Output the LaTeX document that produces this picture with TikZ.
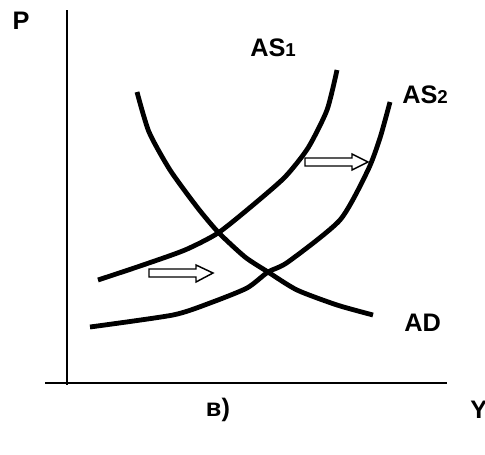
\documentclass[tikz,border=0pt]{standalone}
\usepackage{fontspec}
\setmainfont{Liberation Sans}
\usetikzlibrary{positioning}

\begin{document}
\begin{tikzpicture}[x=0.75pt,y=-0.75pt]
\tikzset{
  axislabel/.style={font=\fontsize{19}{22}\selectfont\bfseries,inner sep=0pt},
  curvelabel/.style={font=\fontsize{19}{22}\selectfont\bfseries,inner sep=0pt,anchor=base west},
  axis/.style={line width=1.4pt},
  curve/.style={line width=3.6pt},
  shiftarrow/.style={line width=1.1pt,fill=white,line join=miter}
}
\useasboundingbox (0,0) rectangle (485,454);
% axes
\draw[axis] (67,10) -- (67,385);
\draw[axis] (45,383) -- (447,383);
\node[axislabel] (n_P) at (21,21) {P};
\node[axislabel,anchor=west] (n_Y) at (470,410) {Y};
\node[axislabel] (n_b) at (218,410) {в)};
% curves
\draw[curve] plot[smooth,tension=0.4] coordinates {(98,280) (143,265) (185,250) (218,233) (253,205) (285,177) (308,148) (327,110) (337,70)};
\draw[curve] plot[smooth,tension=0.4] coordinates {(90,327) (173,315) (210,303) (247,288) (268,272) (288,262) (340,220) (368,170) (380,138) (390,102)};
\draw[curve] plot[smooth,tension=0.4] coordinates {(137,92) (149,132) (170,170) (197,207) (218,232) (245,257) (268,272) (297,290) (337,305) (373,315)};
\node[curvelabel] (n_AS1) at (250,56) {AS\fontsize{14}{16}\selectfont1};
\node[curvelabel] (n_AS2) at (402,103) {AS\fontsize{14}{16}\selectfont2};
\node[curvelabel] (n_AD) at (404,331) {AD};
% shift arrows
\draw[shiftarrow] (149,269) -- (196,269) -- (196,265) -- (213,273) -- (196,282) -- (196,277) -- (149,277) -- cycle;
\draw[shiftarrow] (305,158) -- (352,158) -- (352,154) -- (368,162) -- (352,170) -- (352,166) -- (305,166) -- cycle;
\end{tikzpicture}
\end{document}
